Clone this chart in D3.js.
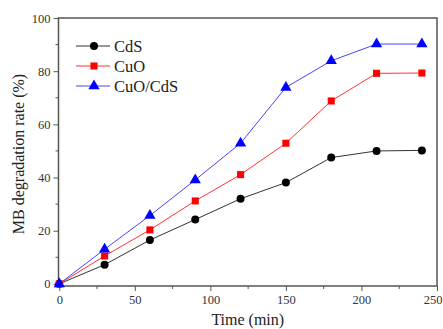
<!DOCTYPE html>
<html>
<head>
<meta charset="utf-8">
<script src="https://cdn.jsdelivr.net/npm/d3@7"></script>
<style>
  body { margin: 0; background: #fff; }
  svg { display: block; font-family: "Liberation Serif", "Times New Roman", serif; }
</style>
</head>
<body>
<div id="chart"></div>
<script>
const times = [0, 30, 60, 90, 120, 150, 180, 210, 240];
const cdsValues = [0, 7.2, 16.5, 24.2, 32.0, 38.1, 47.5, 50.0, 50.2];
const cuoValues = [0, 10.5, 20.3, 31.2, 41.1, 52.9, 68.8, 79.2, 79.3];
const cuoCdsValues = [0, 13.0, 25.7, 39.1, 52.9, 73.9, 83.9, 90.2, 90.2];
const seriesNames = ['CdS', 'CuO', 'CuO/CdS'];
const xTicks = [0, 50, 100, 150, 200, 250];
const yTicks = [0, 20, 40, 60, 80, 100];

const width = 443;
const height = 329;
const margin = { top: 18, right: 6, bottom: 43, left: 58.5 };

const svg = d3.select('#chart')
  .append('svg')
  .attr('width', width)
  .attr('height', height);

const x = d3.scaleLinear()
  .domain([-0.5, 250])
  .range([margin.left, width - margin.right]);

const y = d3.scaleLinear()
  .domain([-0.8, 100])
  .range([height - margin.bottom, margin.top]);

const axisColor = '#555';

// minor ticks (x every 25, y every 10)
const xMinor = d3.range(25, 250, 50);
const yMinor = d3.range(10, 100, 20);

svg.selectAll('.xminor')
  .data(xMinor)
  .enter()
  .append('line')
  .attr('x1', (d) => x(d))
  .attr('x2', (d) => x(d))
  .attr('y1', y.range()[0])
  .attr('y2', y.range()[0] + 3)
  .attr('stroke', axisColor);

svg.selectAll('.yminor')
  .data(yMinor)
  .enter()
  .append('line')
  .attr('y1', (d) => y(d))
  .attr('y2', (d) => y(d))
  .attr('x1', x.range()[0])
  .attr('x2', x.range()[0] - 3)
  .attr('stroke', axisColor);

// X axis
const xAxis = svg.append('g')
  .attr('transform', `translate(0,${y.range()[0]})`)
  .call(d3.axisBottom(x).tickValues(xTicks).tickSize(5).tickPadding(4).tickSizeOuter(0));

// Y axis
const yAxis = svg.append('g')
  .attr('transform', `translate(${x.range()[0]},0)`)
  .call(d3.axisLeft(y).tickValues(yTicks).tickSize(5).tickPadding(3).tickSizeOuter(0));

[xAxis, yAxis].forEach((g) => {
  g.select('.domain').remove();
  g.selectAll('line').attr('stroke', axisColor);
  g.selectAll('text')
    .style('font-family', '"Liberation Serif", serif')
    .style('font-size', '12.5px')
    .attr('fill', '#333');
});

// keep the last x label inside the window
xAxis.selectAll('.tick text')
  .filter((d) => d === 250)
  .attr('text-anchor', 'end')
  .attr('x', width - 1 - x(250));

// frame
svg.append('rect')
  .attr('x', x.range()[0])
  .attr('y', y.range()[1])
  .attr('width', x.range()[1] - x.range()[0])
  .attr('height', y.range()[0] - y.range()[1])
  .attr('fill', 'none')
  .attr('stroke', axisColor)
  .attr('stroke-width', 1.5);

// axis labels
svg.append('text')
  .attr('x', (x.range()[0] + x.range()[1]) / 2)
  .attr('y', 325)
  .attr('text-anchor', 'middle')
  .style('font-size', '16px')
  .attr('fill', '#222')
  .text('Time (min)');

svg.append('text')
  .attr('transform', `translate(24,${(y.range()[0] + y.range()[1]) / 2 + 2}) rotate(-90)`)
  .attr('text-anchor', 'middle')
  .style('font-size', '16px')
  .attr('fill', '#222')
  .text('MB degradation rate (%)');

const series = [
  { name: seriesNames[0], values: cdsValues, line: '#333', fill: '#000', shape: d3.symbolCircle, size: 50 },
  { name: seriesNames[1], values: cuoValues, line: '#f33', fill: '#f00', shape: d3.symbolSquare, size: 50 },
  { name: seriesNames[2], values: cuoCdsValues, line: '#44f', fill: '#00f', shape: d3.symbolTriangle, size: 55 },
];

const line = d3.line()
  .x((d) => x(d[0]))
  .y((d) => y(d[1]));

series.forEach((s) => {
  const pts = times.map((t, i) => [t, s.values[i]]);
  svg.append('path')
    .datum(pts)
    .attr('d', line)
    .attr('fill', 'none')
    .attr('stroke', s.line)
    .attr('stroke-width', 1);

  svg.selectAll(null)
    .data(pts)
    .enter()
    .append('path')
    .attr('transform', (d) => `translate(${x(d[0])},${y(d[1])})`)
    .attr('d', d3.symbol().type(s.shape).size(s.size))
    .attr('fill', s.fill);
});

// legend
const legend = svg.selectAll('.legend')
  .data(series)
  .enter()
  .append('g')
  .attr('class', 'legend')
  .attr('transform', (_, i) => `translate(76, ${46 + i * 20})`);

legend.append('line')
  .attr('x1', 0)
  .attr('x2', 34)
  .attr('stroke', (d) => d.line)
  .attr('stroke-width', 1);

legend.append('path')
  .attr('transform', 'translate(18,0)')
  .attr('d', (d) => d3.symbol().type(d.shape).size(d.size)())
  .attr('fill', (d) => d.fill);

legend.append('text')
  .attr('x', 38)
  .attr('y', 0)
  .attr('dy', '0.35em')
  .style('font-size', '16.5px')
  .attr('fill', '#222')
  .text((d) => d.name);
</script>
</body>
</html>
